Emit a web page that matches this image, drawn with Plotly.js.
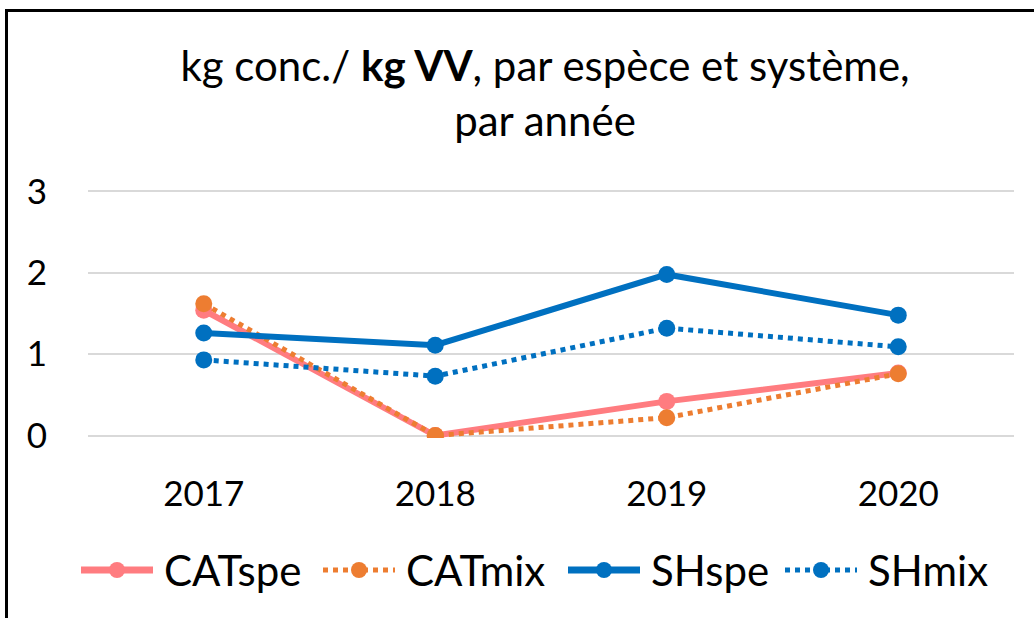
<!DOCTYPE html>
<html>
<head>
<meta charset="utf-8">
<script src="https://cdn.plot.ly/plotly-3.0.1.min.js"></script>
<style>
html,body{margin:0;padding:0;background:#fff;overflow:hidden;}
#chart{width:1034px;height:618px;}
#frame{position:absolute;left:5px;top:9px;width:1100px;height:700px;border-left:3px solid #000;border-top:3px solid #000;pointer-events:none;}
</style>
</head>
<body>
<div id="chart"></div>
<div id="frame"></div>
<script>
const years = ['2017', '2018', '2019', '2020'];
const seriesNames = ['CATspe', 'CATmix', 'SHspe', 'SHmix'];
const catSpe = [1.54, 0.0, 0.42, 0.77];
const catMix = [1.62, 0.0, 0.22, 0.76];
const shSpe = [1.26, 1.11, 1.98, 1.48];
const shMix = [0.93, 0.73, 1.32, 1.09];
const yTicks = [0, 1, 2, 3];

const FONT = 'Lato, "Open Sans", sans-serif';
const W = 1034, H = 618;
const M = {l: 88, r: 20, t: 189, b: 180};
const colors = ['#FF7C80', '#ED7D31', '#0070C0', '#0070C0'];
const dashes = ['solid', 'dot', 'solid', 'dot'];
const widths = [6, 5, 6, 5];
const values = [catSpe, catMix, shSpe, shMix];

const data = seriesNames.map((n, i) => ({
  x: years, y: values[i], name: n, type: 'scatter', mode: 'lines+markers',
  line: {color: colors[i], width: widths[i], dash: dashes[i]},
  marker: {color: colors[i], size: 17},
  showlegend: false
}));

// custom legend (pixel layout -> paper coords)
const pw = W - M.l - M.r, ph = H - M.t - M.b;
const px = x => (x - M.l) / pw;
const py = y => (H - M.b - y) / ph;
const legY = 570;
const legLineStart = [78, 320, 565, 782];
const legLineLen = 78;
const shapes = [];
const annotations = [];
seriesNames.forEach((n, i) => {
  const x0 = legLineStart[i], x1 = x0 + legLineLen, xm = (x0 + x1) / 2;
  shapes.push({type: 'line', xref: 'paper', yref: 'paper',
    x0: px(x0 + 3), x1: px(x1 - 3), y0: py(legY), y1: py(legY),
    line: {color: colors[i], width: dashes[i] === 'dot' ? 5 : 7, dash: dashes[i]}});
  shapes.push({type: 'circle', xref: 'paper', yref: 'paper',
    x0: px(xm - 8), x1: px(xm + 8), y0: py(legY - 8), y1: py(legY + 8),
    fillcolor: colors[i], line: {width: 0}});
  annotations.push({xref: 'paper', yref: 'paper', x: px(x1 + 6), y: py(legY),
    xanchor: 'left', yanchor: 'middle', showarrow: false, text: n,
    font: {family: FONT, size: 42, color: '#000'}});
});

const layout = {
  width: W, height: H,
  margin: M,
  paper_bgcolor: '#fff', plot_bgcolor: '#fff',
  font: {family: FONT, color: '#000'},
  title: {
    text: 'kg conc./ <b>kg VV</b>, par espèce et système,<br>par année',
    font: {family: FONT, size: 42, color: '#000'},
    x: 545 / 1034, xref: 'container', xanchor: 'center',
    y: 0.869, yref: 'container', yanchor: 'middle'
  },
  xaxis: {
    type: 'category', range: [-0.5, 3.5],
    showgrid: false, zeroline: false, showline: false, ticks: '',
    tickfont: {family: FONT, size: 35, color: '#000'},
    ticklabelstandoff: 32
  },
  yaxis: {
    range: [-0.03, 3.03], tickvals: yTicks, ticktext: yTicks.map(String),
    showgrid: true, gridcolor: '#D9D9D9', gridwidth: 2,
    zeroline: false, showline: false, ticks: '',
    tickfont: {family: FONT, size: 35, color: '#000'},
    ticklabelstandoff: 40
  },
  showlegend: false,
  shapes: shapes,
  annotations: annotations
};

Plotly.newPlot('chart', data, layout, {displayModeBar: false, staticPlot: true});
</script>
</body>
</html>
